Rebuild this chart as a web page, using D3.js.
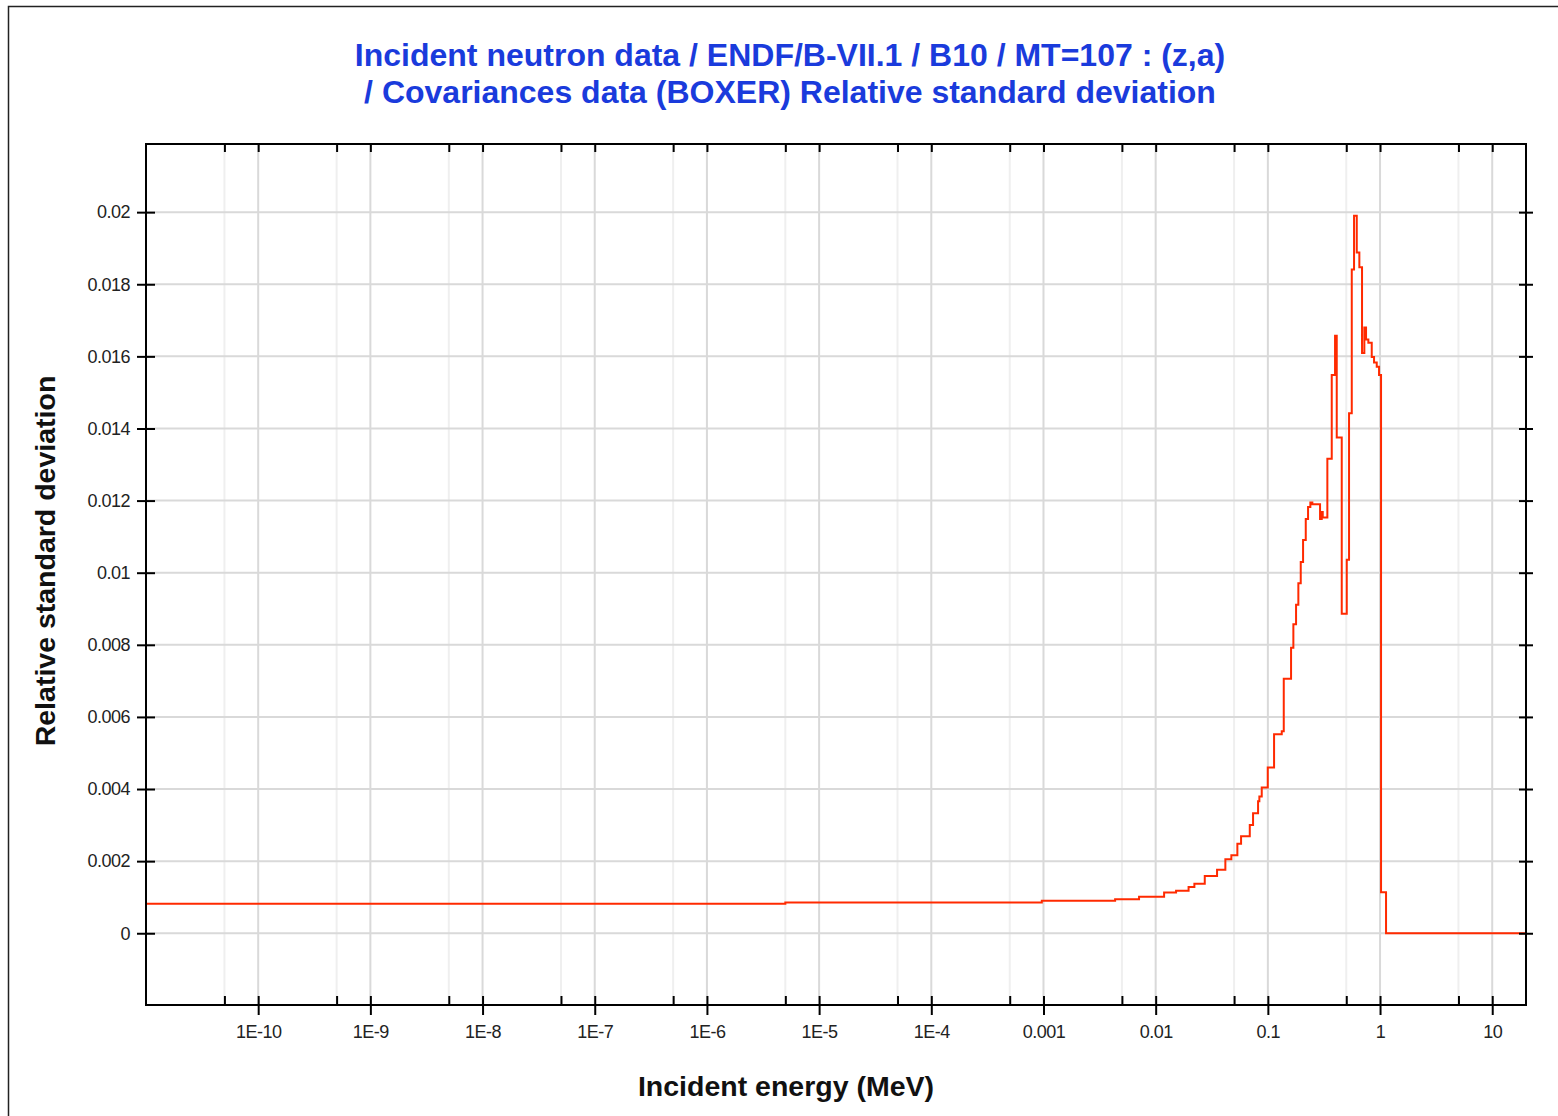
<!DOCTYPE html>
<html><head><meta charset="utf-8">
<script src="https://cdn.jsdelivr.net/npm/d3@7"></script>
<style>html,body{margin:0;padding:0;background:#fff;}svg{display:block;}</style>
</head><body>
<script>
// ---- data ----
const titleLines = ["Incident neutron data / ENDF/B-VII.1 / B10 / MT=107 : (z,a)",
                    "/ Covariances data (BOXER) Relative standard deviation"];
const xLabel = "Incident energy (MeV)";
const yLabel = "Relative standard deviation";
// group lower energies (MeV), step-after
const energies = [1e-11, 5.0e-6, 9.66e-4, 4.35e-3, 7.11e-3, 1.189e-2, 1.52e-2, 1.965e-2, 2.213e-2, 2.739e-2,
  3.525e-2, 4.18e-2, 4.727e-2, 5.348e-2, 5.77e-2, 6.9e-2, 7.38e-2, 8.18e-2, 8.40e-2, 8.82e-2,
  0.0998, 0.1136, 0.133, 0.1386, 0.161, 0.1688, 0.1784, 0.187, 0.1964, 0.206,
  0.2177, 0.2282, 0.2392, 0.2492, 0.2919, 0.3022, 0.3085, 0.3391, 0.3711, 0.3971,
  0.4112, 0.4556, 0.505, 0.5293, 0.5597, 0.5865, 0.6201, 0.654, 0.691, 0.7245,
  0.7503, 0.7866, 0.8433, 0.8841, 0.9345, 0.9797, 1.0207, 1.131, 20];
const rsd = [0.00082, 0.00085, 0.0009, 0.00094, 0.00101, 0.001127, 0.00118, 0.00128, 0.00137, 0.00159,
  0.00176, 0.00205, 0.00216, 0.00248, 0.00269, 0.00300, 0.00333, 0.00366, 0.00379, 0.00404,
  0.0046, 0.00552, 0.0056, 0.00706, 0.00792, 0.00857, 0.00911, 0.00971, 0.0103, 0.01091,
  0.01149, 0.01182, 0.01195, 0.0119, 0.01149, 0.01168, 0.01153, 0.01316, 0.01548, 0.01657,
  0.01375, 0.00886, 0.01036, 0.01442, 0.01841, 0.0199, 0.01888, 0.01847, 0.01609, 0.0168,
  0.01647, 0.01638, 0.01598, 0.01583, 0.01571, 0.01548, 0.00114, 0, 0];
const xMajorTicks = [1e-10, 1e-9, 1e-8, 1e-7, 1e-6, 1e-5, 1e-4, 1e-3, 1e-2, 0.1, 1, 10];
const xTickLabels = ["1E-10", "1E-9", "1E-8", "1E-7", "1E-6", "1E-5", "1E-4", "0.001", "0.01", "0.1", "1", "10"];
const xMinorTicks = [5e-11, 5e-10, 5e-9, 5e-8, 5e-7, 5e-6, 5e-5, 5e-4, 5e-3, 5e-2, 0.5, 5];
const yTicks = [0, 0.002, 0.004, 0.006, 0.008, 0.01, 0.012, 0.014, 0.016, 0.018, 0.02];
const yTickLabels = ["0", "0.002", "0.004", "0.006", "0.008", "0.01", "0.012", "0.014", "0.016", "0.018", "0.02"];
const xDomain = [1e-11, 20];
const yDomain = [-0.00199, 0.02189];

// ---- layout ----
const W = 1558, H = 1116;
const L = 146, R = 1526, T = 144, B = 1005;
const FONT = "'Liberation Sans', Arial, Helvetica, sans-serif";

const svg = d3.select("body").append("svg").attr("width", W).attr("height", H);
svg.append("rect").attr("width", W).attr("height", H).attr("fill", "#fff");
// outer frame
svg.append("path").attr("d", `M8.5,${H} L8.5,6.5 L${W},6.5`).attr("fill", "none").attr("stroke", "#222").attr("stroke-width", 1.5);

const x = d3.scaleLog().domain(xDomain).range([L, R]);
const y = d3.scaleLinear().domain(yDomain).range([B, T]);

// grid
const g = svg.append("g");
g.selectAll(".gmin").data(xMinorTicks).join("line")
  .attr("x1", d => x(d)).attr("x2", d => x(d)).attr("y1", T).attr("y2", B)
  .attr("stroke", "#efefef").attr("stroke-width", 2);
g.selectAll(".gmaj").data(xMajorTicks).join("line")
  .attr("x1", d => x(d)).attr("x2", d => x(d)).attr("y1", T).attr("y2", B)
  .attr("stroke", "#d9d9d9").attr("stroke-width", 2);
g.selectAll(".gy").data(yTicks).join("line")
  .attr("x1", L).attr("x2", R).attr("y1", d => y(d)).attr("y2", d => y(d))
  .attr("stroke", "#d9d9d9").attr("stroke-width", 2);

// data line
const pts = energies.map((e, i) => [e, rsd[i]]);
svg.append("path").datum(pts)
  .attr("d", d3.line().x(d => x(d[0])).y(d => y(d[1])).curve(d3.curveStepAfter))
  .attr("fill", "none").attr("stroke", "#ff2a00").attr("stroke-width", 2);

// axes
const tickStyle = sel => sel.call(s => s.select(".domain").remove())
  .call(s => s.selectAll("line").attr("stroke", "#000").attr("stroke-width", 2));

// bottom major: crossing ticks
const bottom = svg.append("g").attr("transform", `translate(0,${B})`)
  .call(d3.axisBottom(x).tickValues(xMajorTicks).tickSize(10).tickPadding(10.5)
    .tickFormat((d, i) => xTickLabels[i]));
tickStyle(bottom);
bottom.selectAll(".tick line").attr("y1", -9);
bottom.selectAll("text").attr("font-family", FONT).attr("font-size", 18)
  .attr("letter-spacing", "-0.5px").attr("fill", "#222");
// bottom minor
svg.append("g").attr("transform", `translate(0,${B})`)
  .call(d3.axisBottom(x).tickValues(xMinorTicks).tickSize(-9).tickFormat(""))
  .call(tickStyle);
// top ticks (inward)
svg.append("g").attr("transform", `translate(0,${T})`)
  .call(d3.axisTop(x).tickValues(xMajorTicks.concat(xMinorTicks)).tickSize(-8).tickFormat(""))
  .call(tickStyle);
// left
const left = svg.append("g").attr("transform", `translate(${L},0)`)
  .call(d3.axisLeft(y).tickValues(yTicks).tickSize(9).tickPadding(7)
    .tickFormat((d, i) => yTickLabels[i]));
tickStyle(left);
left.selectAll(".tick line").attr("x1", 9);
left.selectAll("text").attr("font-family", FONT).attr("font-size", 18)
  .attr("letter-spacing", "-0.5px").attr("fill", "#222");
// right
const right = svg.append("g").attr("transform", `translate(${R},0)`)
  .call(d3.axisRight(y).tickValues(yTicks).tickSize(7).tickFormat(""));
tickStyle(right);
right.selectAll(".tick line").attr("x1", -7);

// plot frame
svg.append("rect").attr("x", L).attr("y", T).attr("width", R - L).attr("height", B - T)
  .attr("fill", "none").attr("stroke", "#000").attr("stroke-width", 2);

// title
svg.selectAll(".title").data(titleLines).join("text")
  .attr("x", 790).attr("y", (d, i) => 66 + i * 37)
  .attr("text-anchor", "middle").attr("font-family", FONT).attr("font-weight", "bold")
  .attr("font-size", 32).attr("fill", "#1a3bdc").text(d => d);

// axis labels
svg.append("text").attr("x", 786).attr("y", 1096).attr("text-anchor", "middle")
  .attr("font-family", FONT).attr("font-weight", "bold").attr("font-size", 28.5).attr("fill", "#111").text(xLabel);
svg.append("text").attr("transform", "translate(55,561) rotate(-90)").attr("text-anchor", "middle")
  .attr("font-family", FONT).attr("font-weight", "bold").attr("font-size", 28.5).attr("fill", "#111").text(yLabel);
</script>
</body></html>
